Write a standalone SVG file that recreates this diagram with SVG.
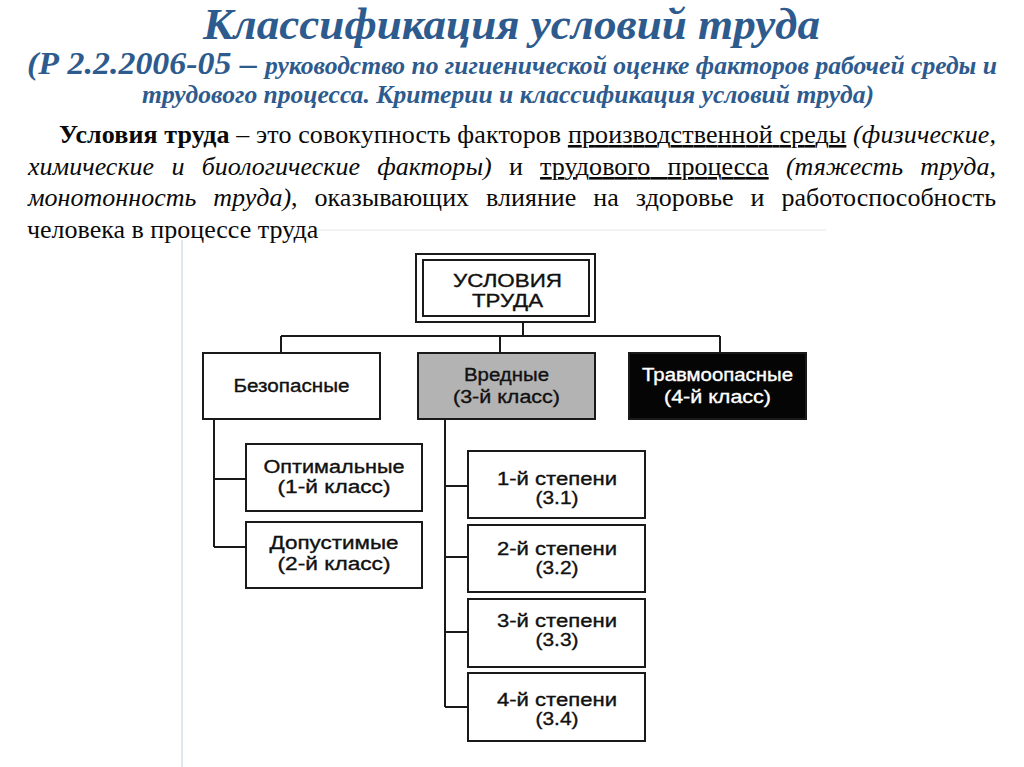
<svg xmlns="http://www.w3.org/2000/svg" width="1024" height="767" viewBox="0 0 1024 767">
<style>
.hd{font-family:"Liberation Serif","Times New Roman",serif;font-weight:bold;font-style:italic;fill:#2e5b8e}
.p{font-family:"Liberation Serif","Times New Roman",serif;font-size:26px;fill:#0a0a0a}
.it{font-style:italic}
.b{font-weight:bold}
.u{text-decoration:underline}
.box{fill:#fff;stroke:#1a1a1a;stroke-width:2}
.t{font-family:"Liberation Sans",Arial,sans-serif;font-size:18px;fill:#111;stroke:#111;stroke-width:0.35}
.w{fill:#fff;stroke:#fff}
.ln{fill:none;stroke:#1a1a1a;stroke-width:2}
</style>
<rect width="1024" height="767" fill="#fff"/>
<!-- faint frame lines -->
<line x1="318" y1="230" x2="826" y2="230" stroke="#eeeeee" stroke-width="1.5"/>
<line x1="182" y1="240" x2="182" y2="767" stroke="#dbe8f1" stroke-width="2"/>

<!-- header -->
<text class="hd" x="203" y="39" font-size="45" textLength="617" lengthAdjust="spacingAndGlyphs">Классификация условий труда</text>
<text class="hd" x="27" y="74" font-size="31" textLength="230" lengthAdjust="spacingAndGlyphs">(Р 2.2.2006-05 –</text>
<text class="hd" x="265" y="74" font-size="26" textLength="732" lengthAdjust="spacingAndGlyphs">руководство по гигиенической оценке факторов рабочей среды и</text>
<text class="hd" x="142" y="103" font-size="26" textLength="732" lengthAdjust="spacingAndGlyphs">трудового процесса. Критерии и классификация условий труда)</text>

<!-- paragraph -->
<text class="p" x="59" y="143" textLength="937" lengthAdjust="spacing"><tspan class="b">Условия труда</tspan> – это совокупность факторов <tspan class="u">производственной среды</tspan> <tspan class="it">(физические,</tspan></text>
<text class="p" x="28" y="175" word-spacing="10.7" textLength="968" lengthAdjust="spacing"><tspan class="it">химические и биологические факторы)</tspan> и <tspan class="u">трудового процесса</tspan> <tspan class="it">(тяжесть труда,</tspan></text>
<text class="p" x="28" y="206" word-spacing="10.5" textLength="968" lengthAdjust="spacing"><tspan class="it">монотонность труда)</tspan>, оказывающих влияние на здоровье и работоспособность</text>
<text class="p" x="27" y="238">человека в процессе труда</text>

<!-- connectors -->
<g id="connectors">
<path class="ln" d="M523 322 V336 M281 336 H720 M281 336 V353 M500 336 V353 M720 336 V353"/>
<path class="ln" d="M214 420 V547 M214 479 H246 M214 547 H246"/>
<path class="ln" d="M445 420 V707 M445 486 H468 M445 557 H468 M445 632 H468 M445 707 H468"/>
</g>

<g id="root">
<rect class="box" x="416" y="254" width="179" height="68"/>
<rect class="box" x="423" y="260" width="166" height="56"/>
<text class="t" x="453" y="287" font-size="21" textLength="109" lengthAdjust="spacingAndGlyphs">УСЛОВИЯ</text>
<text class="t" x="472" y="307" font-size="21" textLength="71" lengthAdjust="spacingAndGlyphs">ТРУДА</text>
</g>

<g id="safe">
<rect class="box" x="203" y="353" width="177" height="66"/>
<text class="t" x="233.5" y="391.5" textLength="116" lengthAdjust="spacingAndGlyphs">Безопасные</text>
</g>

<g id="harmful">
<rect class="box" x="418" y="353" width="177" height="66" style="fill:#b3b3b3"/>
<text class="t" x="464" y="381" textLength="85" lengthAdjust="spacingAndGlyphs">Вредные</text>
<text class="t" x="453" y="403" textLength="107" lengthAdjust="spacingAndGlyphs">(3-й класс)</text>
</g>

<g id="dangerous">
<rect class="box" x="629" y="353" width="177" height="66" style="fill:#050505"/>
<text class="t w" x="642" y="381" textLength="151" lengthAdjust="spacingAndGlyphs">Травмоопасные</text>
<text class="t w" x="664" y="403" textLength="107" lengthAdjust="spacingAndGlyphs">(4-й класс)</text>
</g>

<g id="optimal">
<rect class="box" x="246" y="444" width="176" height="67"/>
<text class="t" x="263.5" y="473" textLength="141" lengthAdjust="spacingAndGlyphs">Оптимальные</text>
<text class="t" x="277.5" y="493" textLength="113" lengthAdjust="spacingAndGlyphs">(1-й класс)</text>
</g>

<g id="permissible">
<rect class="box" x="246" y="522" width="176" height="66"/>
<text class="t" x="269.5" y="549" textLength="129" lengthAdjust="spacingAndGlyphs">Допустимые</text>
<text class="t" x="277.5" y="570" textLength="113" lengthAdjust="spacingAndGlyphs">(2-й класс)</text>
</g>

<g id="deg1">
<rect class="box" x="468" y="451" width="177" height="67"/>
<text class="t" x="497" y="485" textLength="120" lengthAdjust="spacingAndGlyphs">1-й степени</text>
<text class="t" x="535.5" y="504" textLength="43" lengthAdjust="spacingAndGlyphs">(3.1)</text>
</g>

<g id="deg2">
<rect class="box" x="468" y="525" width="177" height="67"/>
<text class="t" x="497" y="555" textLength="120" lengthAdjust="spacingAndGlyphs">2-й степени</text>
<text class="t" x="535.5" y="574" textLength="43" lengthAdjust="spacingAndGlyphs">(3.2)</text>
</g>

<g id="deg3">
<rect class="box" x="468" y="599" width="177" height="68"/>
<text class="t" x="497" y="627" textLength="120" lengthAdjust="spacingAndGlyphs">3-й степени</text>
<text class="t" x="535.5" y="646" textLength="43" lengthAdjust="spacingAndGlyphs">(3.3)</text>
</g>

<g id="deg4">
<rect class="box" x="468" y="673" width="177" height="68"/>
<text class="t" x="497" y="706" textLength="120" lengthAdjust="spacingAndGlyphs">4-й степени</text>
<text class="t" x="535.5" y="725" textLength="43" lengthAdjust="spacingAndGlyphs">(3.4)</text>
</g>
</svg>
